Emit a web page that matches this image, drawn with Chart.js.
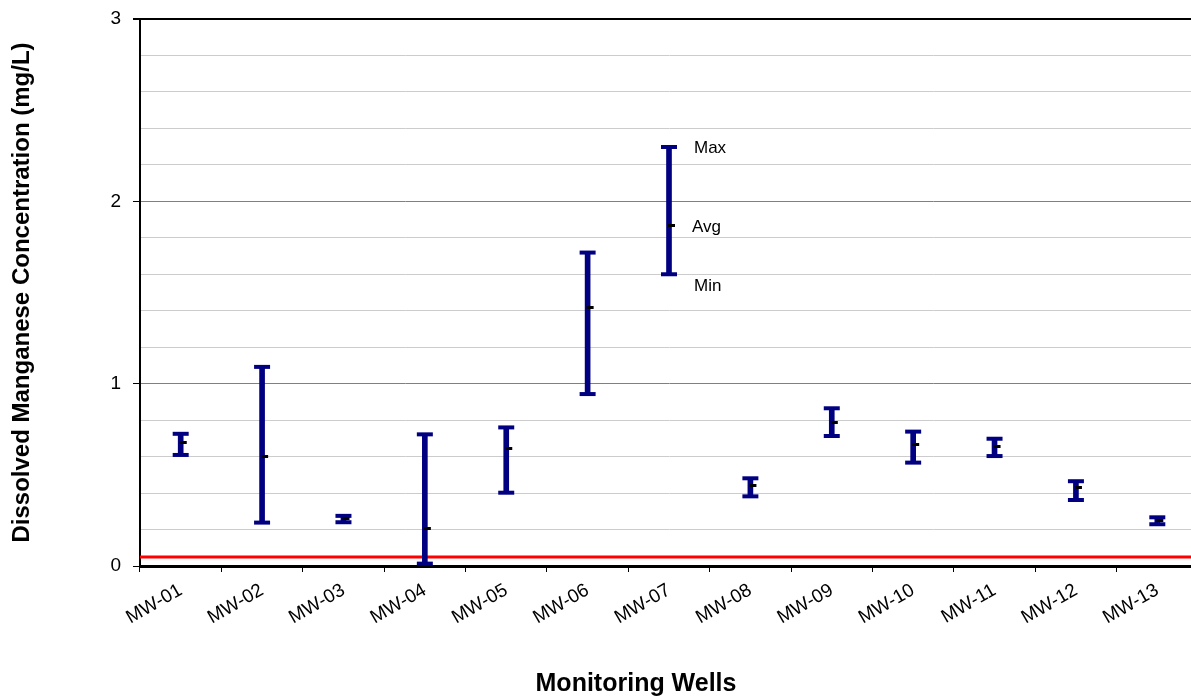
<!DOCTYPE html>
<html>
<head>
<meta charset="utf-8">
<script src="https://cdn.jsdelivr.net/npm/chart.js@4.4.1/dist/chart.umd.min.js"></script>
<style>
    html, body { margin: 0; padding: 0; background: #ffffff; overflow: hidden; }
    #wrap { width: 1191px; height: 696px; overflow: hidden; }
</style>
</head>
<body>
<div id="wrap">
    <canvas id="chartWells" width="1210" height="696"></canvas>
</div>
<script>
// data
var wells = ["MW-01", "MW-02", "MW-03", "MW-04", "MW-05", "MW-06", "MW-07", "MW-08", "MW-09", "MW-10", "MW-11", "MW-12", "MW-13"];
var maxValues = [0.725, 1.092, 0.275, 0.722, 0.76, 1.719, 2.298, 0.481, 0.865, 0.737, 0.698, 0.465, 0.267];
var minValues = [0.609, 0.238, 0.24, 0.013, 0.402, 0.943, 1.60, 0.382, 0.713, 0.567, 0.603, 0.362, 0.229];
var avgValues = [0.678, 0.60, 0.26, 0.203, 0.646, 1.419, 1.865, 0.439, 0.788, 0.664, 0.653, 0.43, 0.247];
var yTickLabels = [0, 1, 2, 3];
var threshold = 0.05;
var legendWell = 6; // MW-07 carries the Max / Avg / Min labels
var legendTexts = ["Max", "Avg", "Min"];

var NAVY = "#000080";
var FONT = "'Liberation Sans', Arial, sans-serif";

document.addEventListener('DOMContentLoaded', function () {
    DrawWellChart();
});

// small black dash a bit right of the bar, used as the avg point
function GetAvgMarker() {
    var c = document.createElement('canvas');
    c.width = 14;
    c.height = 3;
    var ctx = c.getContext('2d');
    ctx.fillStyle = "#000000";
    ctx.fillRect(6, 0, 7, 3);
    return c;
}

function isWhole(v) {
    return Math.abs(v - Math.round(v)) < 1e-6;
}

// red threshold line across the plot
var thresholdPlugin = {
    id: 'thresholdLine',
    beforeDatasetsDraw: function (chart) {
        var ctx = chart.ctx;
        var area = chart.chartArea;
        var y = chart.scales.y.getPixelForValue(threshold);
        ctx.save();
        ctx.strokeStyle = "#ff0000";
        ctx.lineWidth = 3;
        ctx.beginPath();
        ctx.moveTo(area.left, y);
        ctx.lineTo(area.right, y);
        ctx.stroke();
        ctx.restore();
    }
};

// Max / Avg / Min labels and the x title
var textPlugin = {
    id: 'extraText',
    afterDatasetsDraw: function (chart) {
        var ctx = chart.ctx;
        var xs = chart.scales.x;
        var ys = chart.scales.y;
        var x = xs.getPixelForValue(legendWell) + 23;
        ctx.save();
        ctx.fillStyle = "#000000";
        ctx.font = "17px " + FONT;
        ctx.textAlign = "left";
        ctx.textBaseline = "middle";
        ctx.fillText(legendTexts[0], x + 2, ys.getPixelForValue(maxValues[legendWell]) + 1);
        ctx.fillText(legendTexts[1], x, ys.getPixelForValue(avgValues[legendWell]) + 1);
        ctx.fillText(legendTexts[2], x + 2, ys.getPixelForValue(minValues[legendWell]) + 12);

        ctx.font = "bold 25px " + FONT;
        ctx.textAlign = "center";
        ctx.fillText("Monitoring Wells", 636, 684);
        ctx.restore();
    }
};

function DrawWellChart() {
    var ranges = [];
    for (var i = 0; i < wells.length; i++) {
        ranges.push([minValues[i], maxValues[i]]);
    }

    var chart = new Chart(document.getElementById('chartWells'), {
        type: 'bar',
        data: {
            labels: wells,
            datasets: [{
                label: "Range",
                data: ranges,
                backgroundColor: NAVY,
                borderWidth: 0,
                barThickness: 5,
                order: 4
            }, {
                type: 'line',
                label: "Max",
                data: maxValues,
                showLine: false,
                pointStyle: 'line',
                pointRadius: 8,
                pointBorderWidth: 4,
                borderColor: NAVY,
                order: 3
            }, {
                type: 'line',
                label: "Min",
                data: minValues,
                showLine: false,
                pointStyle: 'line',
                pointRadius: 8,
                pointBorderWidth: 4,
                borderColor: NAVY,
                order: 2
            }, {
                type: 'line',
                label: "Avg",
                data: avgValues,
                showLine: false,
                pointStyle: GetAvgMarker(),
                pointRadius: 4,
                order: 1
            }]
        },
        options: {
            responsive: false,
            animation: false,
            events: [],
            layout: {
                padding: { top: 19, right: 8, bottom: 0, left: 0 }
            },
            plugins: {
                legend: { display: false },
                tooltip: { enabled: false }
            },
            scales: {
                x: {
                    offset: true,
                    grid: {
                        offset: true,
                        drawOnChartArea: false,
                        drawTicks: true,
                        tickLength: 6,
                        tickColor: "#000000",
                        tickWidth: 1
                    },
                    border: { display: true, color: "#000000", width: 3 },
                    ticks: {
                        minRotation: 30,
                        maxRotation: 30,
                        autoSkip: false,
                        padding: 7,
                        color: "#000000",
                        font: { family: FONT, size: 19 }
                    },
                    afterFit: function (s) {
                        s.height = 130;
                        s.paddingLeft = 0;
                        s.paddingRight = 0;
                    }
                },
                y: {
                    min: 0,
                    max: 3,
                    grid: {
                        color: function (c) {
                            var v = c.tick.value;
                            if (v >= 3) return "#000000";
                            return isWhole(v) ? "#808080" : "#cccccc";
                        },
                        lineWidth: function (c) {
                            return c.tick.value >= 3 ? 2 : 1;
                        },
                        tickColor: function (c) {
                            return isWhole(c.tick.value) ? "#000000" : "rgba(0,0,0,0)";
                        },
                        tickLength: 7
                    },
                    border: { display: true, color: "#000000", width: 2 },
                    ticks: {
                        stepSize: 0.2,
                        padding: 12,
                        color: "#000000",
                        font: { family: FONT, size: 19 },
                        callback: function (v) {
                            for (var k = 0; k < yTickLabels.length; k++) {
                                if (Math.abs(v - yTickLabels[k]) < 1e-6) return String(yTickLabels[k]);
                            }
                            return "";
                        }
                    },
                    title: {
                        display: true,
                        text: "Dissolved Manganese Concentration (mg/L)",
                        color: "#000000",
                        padding: { top: 8, bottom: 0 },
                        font: { family: FONT, size: 24, weight: 'bold' }
                    },
                    afterFit: function (s) {
                        s.width = 140;
                        s.paddingTop = 0;
                        s.paddingBottom = 0;
                    }
                }
            }
        },
        plugins: [thresholdPlugin, textPlugin]
    });
}
</script>
</body>
</html>
